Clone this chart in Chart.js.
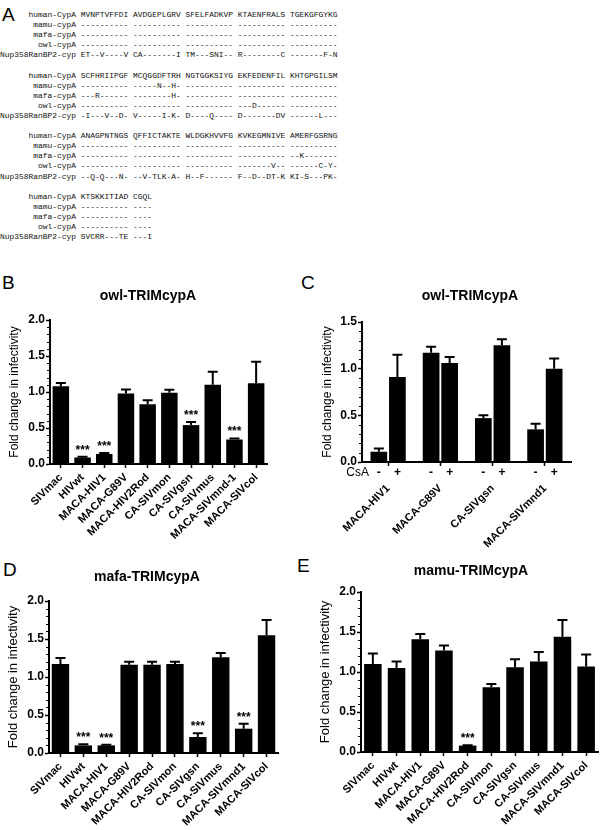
<!DOCTYPE html>
<html>
<head>
<meta charset="utf-8">
<script src="https://cdn.jsdelivr.net/npm/chart.js@4.4.1/dist/chart.umd.min.js"></script>
<style>
  body { margin: 0; background: #fff; }
  #page { position: relative; width: 600px; height: 830px; overflow: hidden; }
  #align { position: absolute; left: 0; top: 10px; margin: 0; font: 7.93px/10.1px "Liberation Mono", "Courier New", monospace; color: #111; }
  .letter { position: absolute; font: 19px/19px "Liberation Sans", Arial, sans-serif; color: #000; }
  canvas { position: absolute; }
</style>
</head>
<body>
<div id="page">
  <div class="letter" style="left:2px;top:5px">A</div>
  <pre id="align"></pre>
  <div class="letter" style="left:2px;top:273px">B</div>
  <div class="letter" style="left:301px;top:273px">C</div>
  <div class="letter" style="left:3px;top:560px">D</div>
  <div class="letter" style="left:297px;top:556px">E</div>
  <canvas id="chartB" width="300" height="270" style="left:0;top:280px"></canvas>
  <canvas id="chartC" width="300" height="270" style="left:300px;top:280px"></canvas>
  <canvas id="chartD" width="300" height="280" style="left:0;top:550px"></canvas>
  <canvas id="chartE" width="300" height="280" style="left:300px;top:550px"></canvas>
</div>
<script>
// ---- panel A: cyclophilin A alignment ----
const seqNames = ['human-CypA', 'mamu-cypA', 'mafa-cypA', 'owl-cypA', 'Nup358RanBP2-cyp'];
const seqBlock1 = [
  'MVNPTVFFDI AVDGEPLGRV SFELFADKVP KTAENFRALS TGEKGFGYKG',
  '---------- ---------- ---------- ---------- ----------',
  '---------- ---------- ---------- ---------- ----------',
  '---------- ---------- ---------- ---------- ----------',
  'ET--V----V CA-------I TM---SNI-- R--------C -------F-N'
];
const seqBlock2 = [
  'SCFHRIIPGF MCQGGDFTRH NGTGGKSIYG EKFEDENFIL KHTGPGILSM',
  '---------- -----N--H- ---------- ---------- ----------',
  '---R------ --------H- ---------- ---------- ----------',
  '---------- ---------- ---------- ---D------ ----------',
  '-I---V--D- V-----I-K- D----Q---- D-------DV ------L---'
];
const seqBlock3 = [
  'ANAGPNTNGS QFFICTAKTE WLDGKHVVFG KVKEGMNIVE AMERFGSRNG',
  '---------- ---------- ---------- ---------- ----------',
  '---------- ---------- ---------- ---------- --K-------',
  '---------- ---------- ---------- -------V-- ------C-Y-',
  '--Q-Q---N- --V-TLK-A- H--F------ F--D--DT-K KI-S---PK-'
];
const seqBlock4 = [
  'KTSKKITIAD CGQL',
  '---------- ----',
  '---------- ----',
  '---------- ----',
  'SVCRR---TE ---I'
];

// ---- panels B, D, E ----
const virusLabels = ['SIVmac', 'HIVwt', 'MACA-HIV1', 'MACA-G89V', 'MACA-HIV2Rod', 'CA-SIVmon', 'CA-SIVgsn', 'CA-SIVmus', 'MACA-SIVmnd1', 'MACA-SIVcol'];
const virusLabelsB = ['SIVmac', 'HIVwt', 'MACA-HIV1', 'MACA-G89V', 'MACA-HIV2Rod', 'CA-SIVmon', 'CA-SIVgsn', 'CA-SIVmus', 'MACA-SIVmnd-1', 'MACA-SIVcol'];

const owlValues = [1.08, 0.09, 0.14, 0.98, 0.83, 0.99, 0.54, 1.10, 0.34, 1.12];
const owlErrors = [0.045, 0.01, 0.012, 0.055, 0.055, 0.04, 0.045, 0.18, 0.015, 0.30];
const owlStars = [1, 2, 6, 8];

const mafaValues = [1.17, 0.10, 0.10, 1.16, 1.16, 1.17, 0.21, 1.26, 0.32, 1.55];
const mafaErrors = [0.08, 0.015, 0.01, 0.04, 0.04, 0.03, 0.05, 0.055, 0.065, 0.20];
const mafaStars = [1, 2, 6, 8];

const mamuValues = [1.10, 1.05, 1.41, 1.27, 0.08, 0.81, 1.06, 1.13, 1.44, 1.07];
const mamuErrors = [0.13, 0.08, 0.065, 0.06, 0.005, 0.04, 0.10, 0.12, 0.21, 0.15];
const mamuStars = [4];

// ---- panel C: owl-TRIMcypA with / without CsA ----
const csaGroups = ['MACA-HIV1', 'MACA-G89V', 'CA-SIVgsn', 'MACA-SIVmnd1'];
const csaSigns = ['-', '+'];
const owlNoCsa = [0.11, 1.17, 0.47, 0.35];
const owlNoCsaErr = [0.035, 0.065, 0.03, 0.06];
const owlCsa = [0.91, 1.06, 1.25, 1.00];
const owlCsaErr = [0.24, 0.065, 0.065, 0.11];

const yTitle = 'Fold change in infectivity';
const FONT = '"Liberation Sans", Arial, sans-serif';

document.getElementById('align').textContent = [seqBlock1, seqBlock2, seqBlock3, seqBlock4]
  .map(block => block.map((row, i) => seqNames[i].padStart(16) + ' ' + row).join('\n'))
  .join('\n\n');

Chart.defaults.font.family = FONT;
Chart.defaults.color = '#000';

// upper error whisker + significance stars
const errorBars = {
  id: 'errorBars',
  afterDatasetsDraw(chart) {
    const ctx = chart.ctx;
    const y = chart.scales.y;
    chart.data.datasets.forEach((ds, di) => {
      chart.getDatasetMeta(di).data.forEach((bar, i) => {
        const top = y.getPixelForValue(ds.data[i] + ds.errors[i]);
        ctx.save();
        ctx.strokeStyle = '#000';
        ctx.lineWidth = 2;
        ctx.beginPath();
        ctx.moveTo(bar.x, bar.y);
        ctx.lineTo(bar.x, top);
        ctx.moveTo(bar.x - 5, top);
        ctx.lineTo(bar.x + 5, top);
        ctx.stroke();
        if (ds.stars && ds.stars.includes(i)) {
          ctx.fillStyle = '#000';
          ctx.font = 'bold 12px ' + FONT;
          ctx.textAlign = 'center';
          ctx.fillText('***', bar.x, top - 3);
        }
        ctx.restore();
      });
    });
  }
};

// small ticks every 0.1 on the y axis
const minorTicks = {
  id: 'minorTicks',
  afterDraw(chart) {
    const y = chart.scales.y;
    const ctx = chart.ctx;
    ctx.save();
    ctx.strokeStyle = '#000';
    ctx.lineWidth = 1;
    for (let k = 1; k * 0.1 < y.max - 0.001; k++) {
      if (k % 5 === 0) continue;
      const p = Math.round(y.getPixelForValue(k * 0.1)) + 0.5;
      ctx.beginPath();
      ctx.moveTo(y.right - 3, p);
      ctx.lineTo(y.right, p);
      ctx.stroke();
    }
    ctx.restore();
  }
};

const panelTitle = {
  id: 'panelTitle',
  afterDraw(chart, args, opts) {
    const ctx = chart.ctx;
    ctx.save();
    ctx.fillStyle = '#000';
    ctx.font = 'bold 14px ' + FONT;
    ctx.textAlign = 'center';
    ctx.textBaseline = 'middle';
    ctx.fillText(opts.text, opts.x, opts.y);
    ctx.restore();
  }
};

// "CsA  -  +" row under panel C
const csaRow = {
  id: 'csaRow',
  afterDraw(chart) {
    const ctx = chart.ctx;
    const yy = chart.chartArea.bottom + 11;
    ctx.save();
    ctx.fillStyle = '#000';
    ctx.textBaseline = 'middle';
    ctx.font = '12px ' + FONT;
    ctx.textAlign = 'right';
    ctx.fillText('CsA', 69, yy);
    ctx.font = 'bold 12px ' + FONT;
    ctx.textAlign = 'center';
    chart.data.datasets.forEach((ds, di) => {
      chart.getDatasetMeta(di).data.forEach(bar => ctx.fillText(ds.label, bar.x, yy));
    });
    ctx.restore();
  }
};

function yAxis(max, width, titleSize, titlePad) {
  return {
    min: 0,
    max: max,
    ticks: { stepSize: 0.5, padding: 1, font: { size: 12, weight: 'bold' }, callback: v => v.toFixed(1) },
    grid: { drawOnChartArea: false, tickLength: 4, tickWidth: 1.5, tickColor: '#000' },
    border: { color: '#000', width: 2 },
    title: { display: true, text: yTitle, color: '#000', font: { size: titleSize }, padding: { top: titlePad, bottom: 0 } },
    afterFit: s => { s.width = width; }
  };
}

function xAxis(height, pad) {
  return {
    ticks: { font: { size: 11, weight: 'bold' }, minRotation: 45, maxRotation: 45, autoSkip: false, padding: pad },
    grid: { drawOnChartArea: false, offset: false, tickLength: 4, tickWidth: 1.5, tickColor: '#000' },
    border: { color: '#000', width: 2 },
    afterFit: s => { s.height = height; }
  };
}

function barPanel(id, labels, values, errors, stars, title, box) {
  new Chart(document.getElementById(id), {
    type: 'bar',
    data: {
      labels: labels,
      datasets: [{
        data: values,
        errors: errors,
        stars: stars,
        backgroundColor: '#000',
        barPercentage: box.bar,
        categoryPercentage: 1
      }]
    },
    options: {
      responsive: false,
      animation: false,
      layout: { padding: { top: box.top, right: box.right, left: 0, bottom: 0 } },
      scales: {
        x: xAxis(box.xh, 3),
        y: yAxis(2, box.yw, box.ts, box.tp)
      },
      plugins: {
        legend: { display: false },
        tooltip: { enabled: false },
        panelTitle: { text: title, x: box.tx, y: box.ty }
      }
    },
    plugins: [errorBars, minorTicks, panelTitle]
  });
}

barPanel('chartB', virusLabelsB, owlValues, owlErrors, owlStars, 'owl-TRIMcypA',
  { top: 40, right: 33, yw: 50, xh: 86, bar: 0.76, ts: 12, tp: 7, tx: 148, ty: 16 });
barPanel('chartD', virusLabels, mafaValues, mafaErrors, mafaStars, 'mafa-TRIMcypA',
  { top: 51, right: 22, yw: 49, xh: 77, bar: 0.76, ts: 13, tp: 6, tx: 147, ty: 27 });
barPanel('chartE', virusLabels, mamuValues, mamuErrors, mamuStars, 'mamu-TRIMcypA',
  { top: 42, right: 2, yw: 61, xh: 78, bar: 0.74, ts: 13, tp: 18, tx: 171, ty: 21 });

new Chart(document.getElementById('chartC'), {
  type: 'bar',
  data: {
    labels: csaGroups,
    datasets: [
      { label: csaSigns[0], data: owlNoCsa, errors: owlNoCsaErr, backgroundColor: '#000', barPercentage: 0.9, categoryPercentage: 0.71 },
      { label: csaSigns[1], data: owlCsa, errors: owlCsaErr, backgroundColor: '#000', barPercentage: 0.9, categoryPercentage: 0.71 }
    ]
  },
  options: {
    responsive: false,
    animation: false,
    layout: { padding: { top: 42, right: 29, left: 0, bottom: 0 } },
    scales: {
      x: xAxis(88, 16),
      y: yAxis(1.5, 62, 12, 20)
    },
    plugins: {
      legend: { display: false },
      tooltip: { enabled: false },
      panelTitle: { text: 'owl-TRIMcypA', x: 170, y: 16 }
    }
  },
  plugins: [errorBars, minorTicks, panelTitle, csaRow]
});
</script>
</body>
</html>
